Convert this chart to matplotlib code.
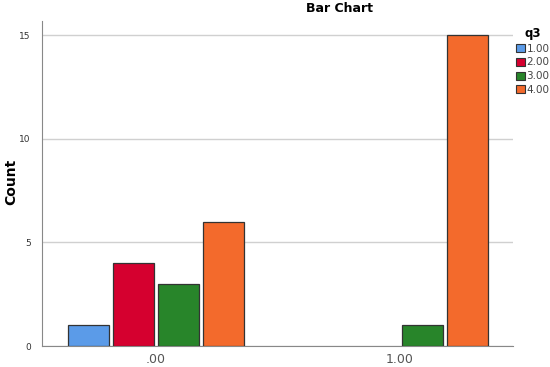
import matplotlib.pyplot as plt
import numpy as np

# Data
groups = [".00", "1.00"]
q3_levels = ["1.00", "2.00", "3.00", "4.00"]
counts = {
    "1.00": [1, 0],
    "2.00": [4, 0],
    "3.00": [3, 1],
    "4.00": [6, 15],
}
colors = ["#5b9be8", "#d5002f", "#28852a", "#f36a2c"]

fig = plt.figure(figsize=(5.5, 3.67), dpi=100)
ax = fig.add_axes([42 / 550, 21 / 367, (513 - 42) / 550, (346 - 21) / 367])

x = np.arange(len(groups))
step = 0.184
width = 0.168
handles = []
for i, (level, color) in enumerate(zip(q3_levels, colors)):
    vals = np.array(counts[level])
    offs = (i - 1.5) * step
    bars = ax.bar(x + offs, vals, width, color=color, edgecolor="#333333",
                  linewidth=0.9, zorder=3)
    for b, v in zip(bars, vals):
        if v == 0:
            b.set_visible(False)
    handles.append(plt.Rectangle((0, 0), 1, 1, facecolor=color,
                                 edgecolor="#333333", linewidth=0.8))

ax.set_xlim(-0.467, 1.463)
ax.set_ylim(0, 15.7)
ax.set_yticks([0, 5, 10, 15])
ax.set_xticks(x)
ax.set_xticklabels(groups)
ax.grid(axis="y", color="#d0d0d0", linewidth=1.0, zorder=0)
for side in ["top", "right"]:
    ax.spines[side].set_visible(False)
for side in ["left", "bottom"]:
    ax.spines[side].set_color("#888888")
ax.tick_params(axis="y", labelsize=6.5, colors="#333333", length=0, pad=8)
ax.tick_params(axis="x", labelsize=9, labelcolor="#555555", length=0, pad=5)

# y label placed on the figure so it does not get clipped
fig.text(11 / 550, 1 - 182 / 367, "Count", rotation=90, ha="center",
         va="center", fontsize=10, fontweight="bold")

fig.text(339 / 550, 1 - 9 / 367, "Bar Chart", ha="center", va="center",
         fontsize=9, fontweight="bold")

leg = fig.legend(handles, q3_levels, title="q3", loc="upper left",
                 bbox_to_anchor=(511 / 550, 1 - 22 / 367), frameon=False,
                 fontsize=7.5, title_fontproperties={"weight": "bold", "size": 8.5},
                 handlelength=0.8, handleheight=0.8, handletextpad=0.2,
                 labelspacing=0.35, borderpad=0, labelcolor="#444444")

fig.savefig("out.png", dpi=100)
